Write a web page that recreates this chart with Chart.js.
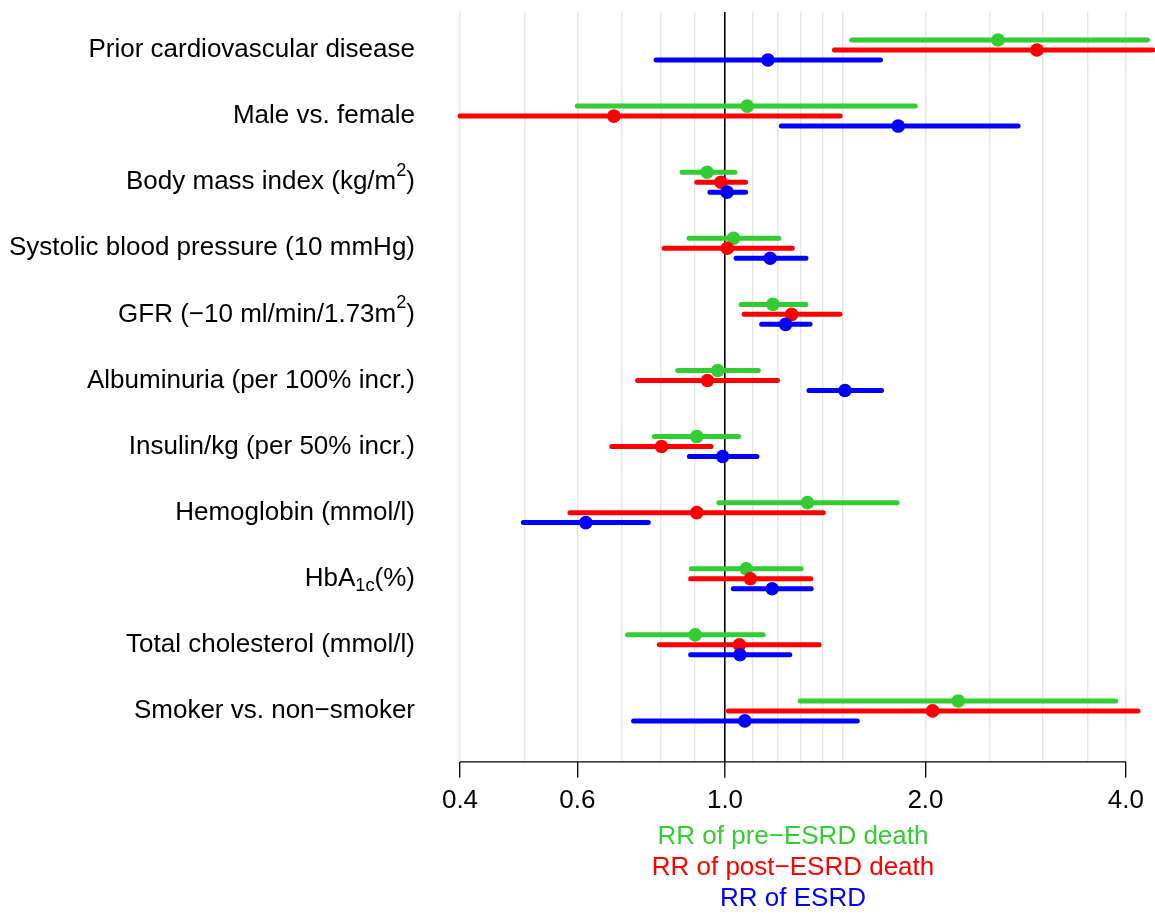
<!DOCTYPE html>
<html>
<head>
<meta charset="utf-8">
<script src="https://cdn.jsdelivr.net/npm/chart.js@4"></script>
<style>
  html, body { margin: 0; padding: 0; background: #fff; }
  #wrap { width: 1155px; height: 914px; }
</style>
</head>
<body>
<div id="wrap"><canvas id="forest" width="1155" height="914"></canvas></div>
<script>
// rows, top to bottom (^{..} = superscript, _{..} = subscript)
const categories = [
  'Prior cardiovascular disease',
  'Male vs. female',
  'Body mass index (kg/m^{2})',
  'Systolic blood pressure (10 mmHg)',
  'GFR (\u221210 ml/min/1.73m^{2})',
  'Albuminuria (per 100% incr.)',
  'Insulin/kg (per 50% incr.)',
  'Hemoglobin (mmol/l)',
  'HbA_{1c}(%)',
  'Total cholesterol (mmol/l)',
  'Smoker vs. non\u2212smoker'
];

// RR of pre-ESRD death (green)
const preEst = [2.57, 1.08, 0.94, 1.03, 1.18, 0.975, 0.907, 1.33, 1.076, 0.902, 2.24];
const preLo  = [1.55, 0.60, 0.862, 0.883, 1.057, 0.849, 0.783, 0.979, 0.890, 0.714, 1.297];
const preHi  = [4.31, 1.93, 1.035, 1.205, 1.323, 1.122, 1.048, 1.813, 1.301, 1.141, 3.86];

// RR of post-ESRD death (red)
const postEst = [2.94, 0.681, 0.986, 1.008, 1.259, 0.941, 0.803, 0.907, 1.092, 1.051, 2.05];
const postLo  = [1.46, 0.40, 0.907, 0.810, 1.068, 0.739, 0.676, 0.585, 0.888, 0.797, 1.012];
const postHi  = [4.39, 1.489, 1.074, 1.262, 1.488, 1.199, 0.953, 1.405, 1.346, 1.385, 4.17];

// RR of ESRD (blue)
const esrdEst = [1.16, 1.82, 1.007, 1.169, 1.233, 1.514, 0.992, 0.618, 1.177, 1.053, 1.071];
const esrdLo  = [0.788, 1.215, 0.949, 1.039, 1.135, 1.337, 0.884, 0.498, 1.029, 0.888, 0.729];
const esrdHi  = [1.712, 2.755, 1.074, 1.323, 1.342, 1.718, 1.117, 0.767, 1.347, 1.251, 1.58];

const gridValues = [0.4, 0.5, 0.6, 0.7, 0.8, 0.9, 1.0, 1.1, 1.2, 1.3, 1.4, 1.5, 2.0, 2.5, 3.0, 3.5, 4.0];
const tickLabels = [0.4, 0.6, 1.0, 2.0, 4.0];
const legendLines = ['RR of pre\u2212ESRD death', 'RR of post\u2212ESRD death', 'RR of ESRD'];

const FONT = "'Liberation Sans', Arial, Helvetica, sans-serif";
const GREEN = '#32CD32', RED = '#FF0000', BLUE = '#0000FF';

function segs(lo, hi, off) {
  const out = [];
  lo.forEach((v, i) => {
    out.push({ x: v, y: i + 1 + off }, { x: hi[i], y: i + 1 + off }, { x: hi[i], y: null });
  });
  return out;
}
function pts(est, off) {
  return est.map((v, i) => ({ x: v, y: i + 1 + off }));
}
function lineSet(data, color) {
  return { type: 'line', data, borderColor: color, borderWidth: 5, borderCapStyle: 'round',
           pointRadius: 0, pointHoverRadius: 0, spanGaps: false, fill: false, clip: false };
}
function dotSet(data, color) {
  return { type: 'scatter', data, backgroundColor: color, borderColor: color, borderWidth: 0,
           pointRadius: 6.8, pointHoverRadius: 6.8, showLine: false, clip: false };
}

function drawRich(ctx, text, right, mid, size) {
  const parts = text.split(/(\^\{[^}]*\}|_\{[^}]*\})/).filter(Boolean).map(p => {
    if (p.startsWith('^{')) return { t: p.slice(2, -1), s: 0.7, dy: -0.42 };
    if (p.startsWith('_{')) return { t: p.slice(2, -1), s: 0.7, dy: 0.28 };
    return { t: p, s: 1, dy: 0 };
  });
  let total = 0;
  parts.forEach(p => { ctx.font = (size * p.s) + 'px ' + FONT; p.w = ctx.measureText(p.t).width; total += p.w; });
  let x = right - total;
  ctx.textAlign = 'left';
  ctx.textBaseline = 'middle';
  parts.forEach(p => {
    ctx.font = (size * p.s) + 'px ' + FONT;
    ctx.fillText(p.t, x, mid + p.dy * size);
    x += p.w;
  });
}

const extras = {
  id: 'extras',
  afterDraw(chart) {
    const ctx = chart.ctx, xs = chart.scales.x, ys = chart.scales.y, area = chart.chartArea;
    ctx.save();
    // axis line only between first and last tick
    ctx.strokeStyle = '#000';
    ctx.lineWidth = 1.3;
    ctx.beginPath();
    ctx.moveTo(xs.getPixelForValue(tickLabels[0]), area.bottom);
    ctx.lineTo(xs.getPixelForValue(tickLabels[tickLabels.length - 1]), area.bottom);
    ctx.stroke();
    // row labels
    ctx.fillStyle = '#000';
    categories.forEach((c, i) => drawRich(ctx, c, area.left - 45, ys.getPixelForValue(i + 1), 26));
    // colour key under the axis
    const cx = (xs.getPixelForValue(tickLabels[0]) + xs.getPixelForValue(tickLabels[tickLabels.length - 1])) / 2;
    const cols = [GREEN, RED, BLUE];
    ctx.font = '26px ' + FONT;
    ctx.textAlign = 'center';
    ctx.textBaseline = 'middle';
    legendLines.forEach((t, i) => {
      ctx.fillStyle = cols[i];
      ctx.fillText(t, cx, area.bottom + 75 + i * 31);
    });
    ctx.restore();
  }
};

new Chart(document.getElementById('forest'), {
  type: 'line',
  data: {
    datasets: [
      dotSet(pts(esrdEst, 0.151), BLUE),
      lineSet(segs(esrdLo, esrdHi, 0.151), BLUE),
      dotSet(pts(postEst, 0), RED),
      lineSet(segs(postLo, postHi, 0), RED),
      dotSet(pts(preEst, -0.151), GREEN),
      lineSet(segs(preLo, preHi, -0.151), GREEN)
    ]
  },
  options: {
    responsive: false,
    animation: false,
    devicePixelRatio: 1,
    layout: { padding: { left: 460, top: 12, right: 0, bottom: 91 } },
    plugins: { legend: { display: false }, tooltip: { enabled: false } },
    scales: {
      x: {
        type: 'logarithmic',
        min: 0.4,
        max: 4.32,
        afterBuildTicks: s => { s.ticks = gridValues.map(v => ({ value: v })); },
        border: { display: false },
        grid: {
          color: c => (c.tick && c.tick.value === 1 ? '#000' : '#e6e6e6'),
          lineWidth: c => (c.tick && c.tick.value === 1 ? 1.6 : 1.4),
          tickColor: c => (c.tick && tickLabels.includes(c.tick.value) ? '#000' : 'rgba(0,0,0,0)'),
          tickLength: 16,
          tickWidth: 1.3
        },
        ticks: {
          autoSkip: false,
          maxRotation: 0,
          padding: 7,
          color: '#000',
          font: { family: FONT, size: 26 },
          callback: v => (tickLabels.includes(v) ? v.toFixed(1) : '')
        }
      },
      y: { type: 'linear', min: 0.425, max: 11.77, reverse: true, display: false }
    }
  },
  plugins: [extras]
});
</script>
</body>
</html>
